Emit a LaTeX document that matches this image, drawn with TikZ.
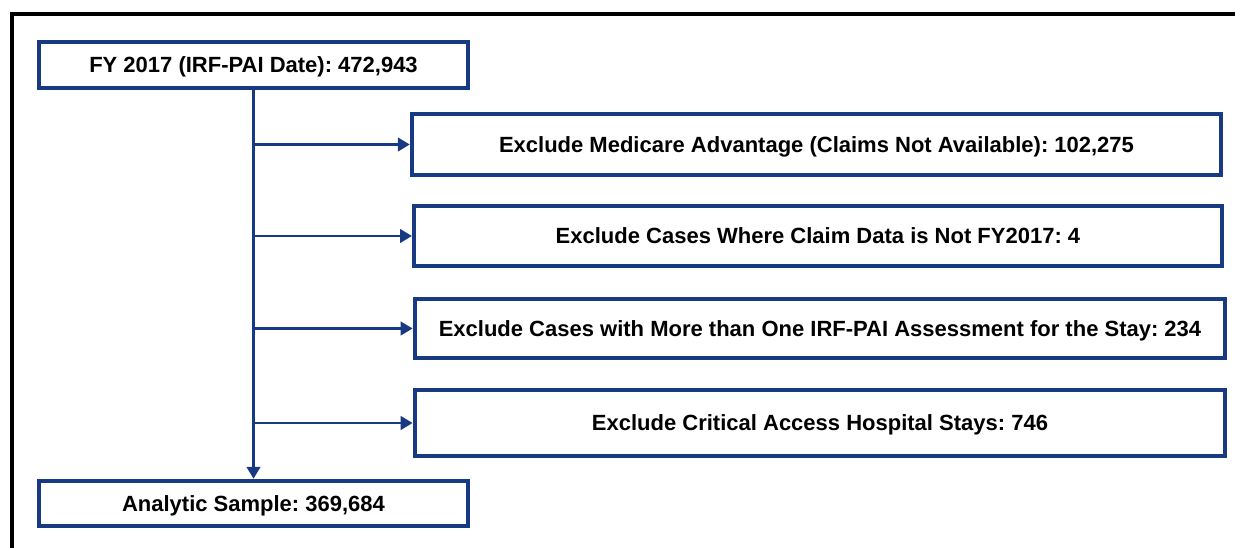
\documentclass[tikz,border=0pt]{standalone}
\usepackage{fontspec}
\setmainfont{Liberation Sans}
\usetikzlibrary{arrows.meta}

\definecolor{flowblue}{RGB}{24,58,130}

\tikzset{
    flowbox/.style={draw=flowblue, line width=3pt, fill=white, inner sep=0pt,
        text height=11.8pt, text depth=0pt,
        font=\fontsize{16.5}{19}\selectfont\bfseries\frenchspacing, text=black},
    flowarrow/.style={draw=flowblue, line width=2.2pt, -{Triangle[length=9pt, width=10pt]}}
}

\begin{document}
\begin{tikzpicture}[x=0.75pt, y=-0.75pt]
        % Setup the page and frame
        \useasboundingbox (0,0) rectangle (1235,548);
        \draw[line width=3pt] (12,548) -- (12,14) -- (1235,14);

        % Start and end boxes
        \node[flowbox, minimum width=322pt, minimum height=35pt] (start) at (253.5,65)
            {FY 2017 (IRF-PAI Date): 472,943};
        \node[flowbox, minimum width=322pt, minimum height=34pt] (sample) at (253.5,503.5)
            {Analytic Sample: 369,684};

        % Exclusion boxes
        \node[flowbox, minimum width=607pt, minimum height=46pt] (excl1) at (816.5,144.5)
            {Exclude Medicare Advantage (Claims Not Available): 102,275};
        \node[flowbox, minimum width=606pt, minimum height=45pt] (excl2) at (818,236)
            {Exclude Cases Where Claim Data is Not FY2017: 4};
        \node[flowbox, minimum width=608pt, minimum height=44pt] (excl3) at (820,328.5)
            {Exclude Cases with More than One IRF-PAI Assessment for the Stay: 234};
        \node[flowbox, minimum width=608pt, minimum height=50pt] (excl4) at (820,423)
            {Exclude Critical Access Hospital Stays: 746};

        % Main flow
        \draw[flowarrow] (start.south) -- (sample.north);

        % Branches to the exclusions
        \foreach \b in {excl1, excl2, excl3, excl4}
            \draw[flowarrow] (start.south |- \b.west) -- (\b.west);

    \end{tikzpicture}
\end{document}
